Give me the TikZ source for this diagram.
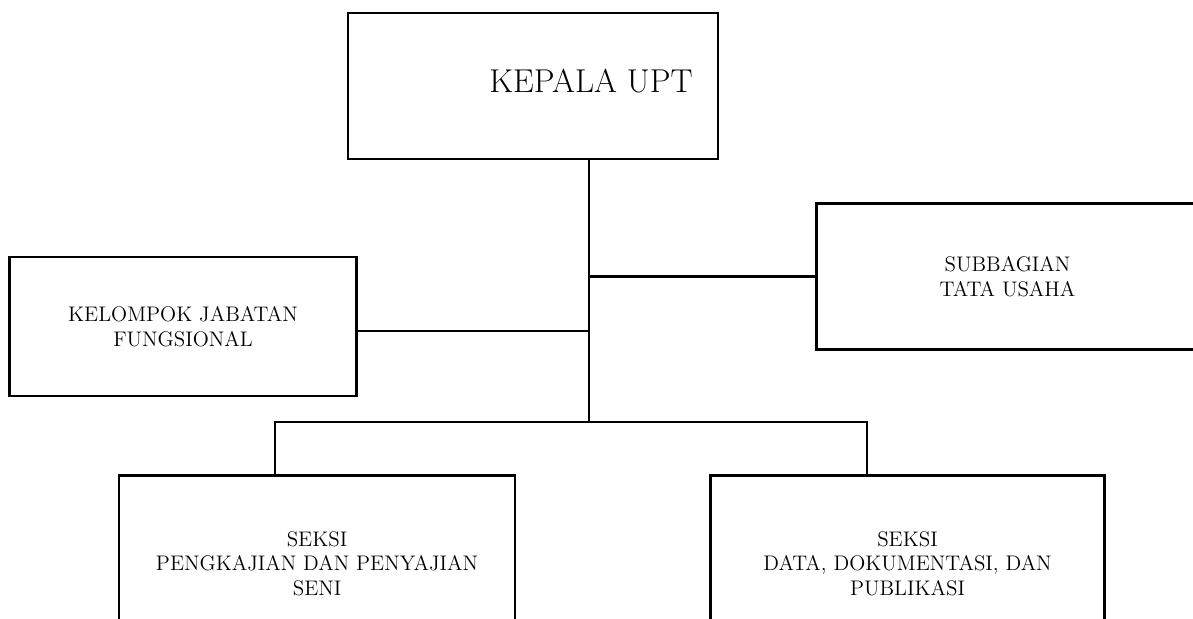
\documentclass[tikz,border=0pt]{standalone}
\usepackage{tikz}
\usetikzlibrary{positioning, calc}

\tikzset{
    unit/.style={draw, line width=1.2pt, align=center, inner sep=0pt,
        font=\fontsize{12}{14}\selectfont},
    conn/.style={line width=1.2pt}
}

\begin{document}
\begin{tikzpicture}
                        \useasboundingbox (0, 0) rectangle (23.86, -12.38);

                        \node[unit, minimum width=7.4cm, minimum height=2.92cm] (kepala) at (10.66, -1.72) {};
                        \node[font=\fontsize{18.8}{22}\selectfont, inner sep=0pt] (kepalatext) at (11.82, -1.62) {KEPALA UPT};
                        \node[unit, minimum width=7.64cm, minimum height=2.92cm] (tu) at (20.15, -5.53) {SUBBAGIAN\\TATA USAHA};
                        \node[unit, minimum width=6.94cm, minimum height=2.78cm] (jf) at (3.66, -6.53) {KELOMPOK JABATAN\\FUNGSIONAL};
                        \node[unit, minimum width=7.92cm, minimum height=3.52cm] (seksia) at (6.34, -11.27) {SEKSI\\PENGKAJIAN DAN PENYAJIAN\\SENI};
                        \node[unit, minimum width=7.88cm, minimum height=3.52cm] (seksib) at (18.15, -11.27) {SEKSI\\DATA, DOKUMENTASI, DAN\\PUBLIKASI};

                        \coordinate (trunk) at (11.78, -8.44);
                        \coordinate (dropa) at (5.5, -8.44);
                        \coordinate (dropb) at (17.34, -8.44);

                        \draw[conn]
                        (trunk |- kepala.south) -- (trunk)
                        ([yshift=-0.09cm]jf.east) -- ([yshift=-0.09cm]jf.east -| trunk)
                        (tu.west) -- (tu.west -| trunk)
                        (dropa |- seksia.north) -- (dropa) -- (dropb) -- (dropb |- seksib.north);
                    \end{tikzpicture}
\end{document}
